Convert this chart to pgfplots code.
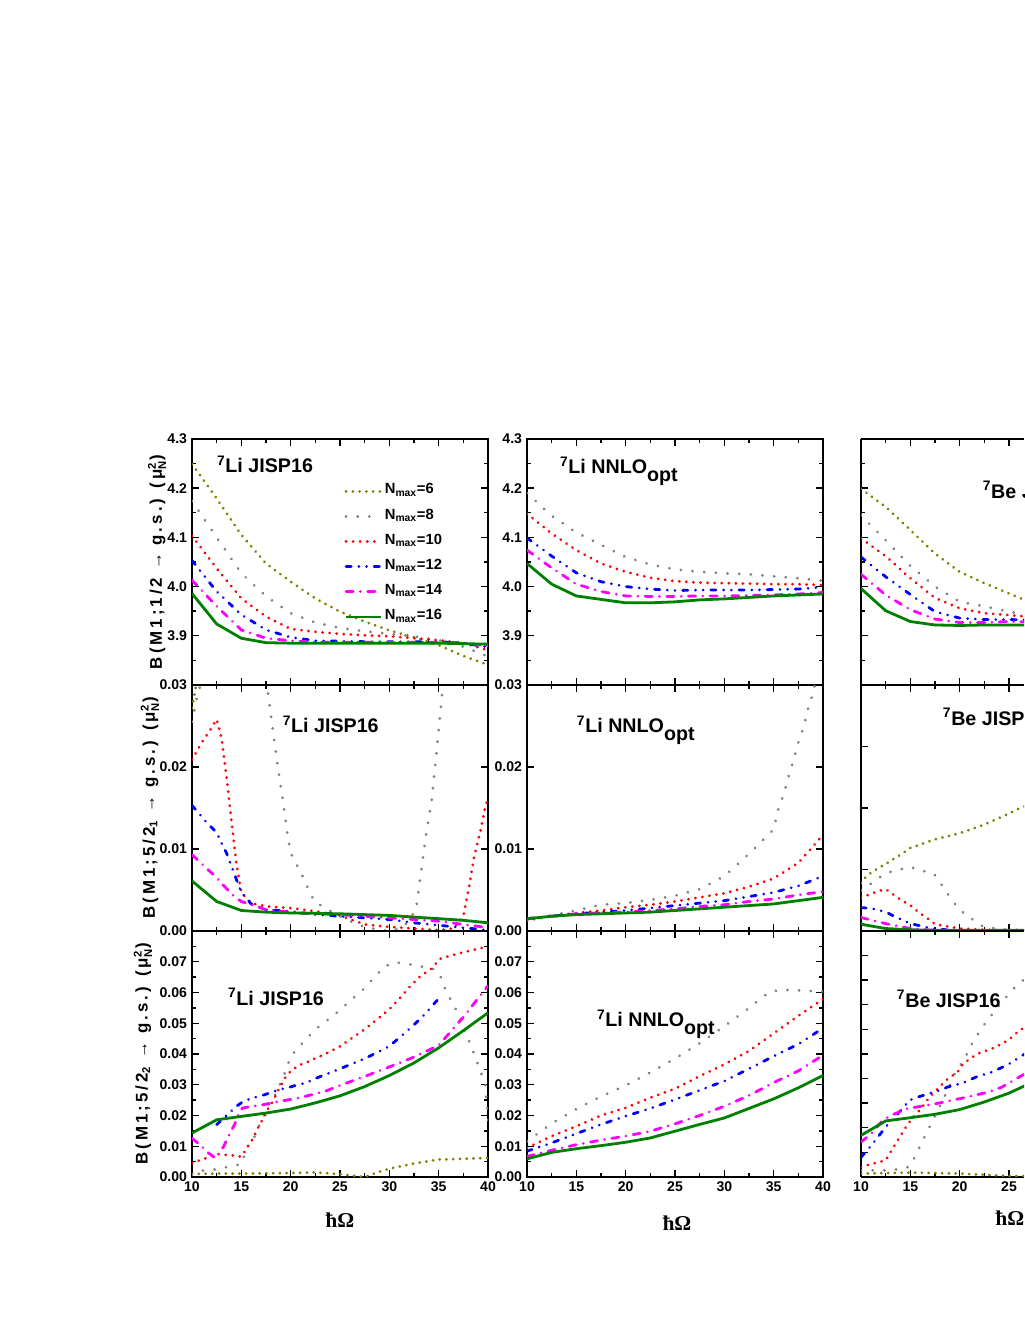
\documentclass[border=0pt]{standalone}
\usepackage{pgfplots}
\pgfplotsset{compat=1.18}
\usepackage{amsmath}
\usepackage{fontspec}
\setmainfont{Liberation Sans}
\newfontfamily\serifbf{Liberation Serif}
\newfontfamily\labfont[LetterSpace=18]{Liberation Sans}

\definecolor{cOlive}{RGB}{128,128,0}
\definecolor{cGray}{RGB}{128,128,128}
\definecolor{cRed}{RGB}{255,0,0}
\definecolor{cBlue}{RGB}{0,0,255}
\definecolor{cMag}{RGB}{255,0,255}
\definecolor{cGreen}{RGB}{0,128,0}

\tikzset{
  n6/.style={cOlive, line width=0.75mm, line cap=round, dash pattern=on 0.02mm off 1.67mm},
  n8/.style={cGray, line width=0.75mm, line cap=round, dash pattern=on 0.02mm off 2.9mm},
  n10/.style={cRed, line width=0.75mm, line cap=round, dash pattern=on 0.02mm off 1.75mm},
  n12/.style={cBlue, line width=0.7mm, line cap=round,
    dash pattern=on 1.3mm off 1.9mm on 0.02mm off 1.9mm on 0.02mm off 1.9mm},
  n14/.style={cMag, line width=0.7mm, line cap=round,
    dash pattern=on 1.8mm off 1.8mm on 0.02mm off 1.8mm},
  n16/.style={cGreen, line width=0.7mm},
  plab/.style={anchor=base west, font=\bfseries\fontsize{14}{16}\selectfont},
}

\pgfplotsset{
  panel/.style={
    scale only axis, width=74mm, height=61.5mm,
    xmin=10, xmax=40, xtick={10,15,20,25,30,35,40}, minor x tick num=1,
    xticklabels={}, scaled ticks=false,
    tick align=inside,
    axis line style={line width=0.4mm},
    tick style={line width=0.35mm, black},
    major tick length=1.7mm, minor tick length=1mm,
    tick label style={font=\bfseries\fontsize{10}{11}\selectfont},
    ylabel style={font=\labfont\bfseries\fontsize{12}{14}\selectfont, anchor=center},
    xlabel style={font=\serifbf\bfseries\fontsize{15}{17}\selectfont, anchor=center},
    clip mode=individual,
    legend image code/.code={\draw[##1] (0mm,0mm) -- (8.75mm,0mm);},
  },
  cut/.style={width=40.75mm, xmax=26.52, xtick={10,15,20,25},
    axis y line*=left, yticklabels={}},
  bottomx/.style={xticklabels={10,15,20,25,30,35,40}, xlabel={ħΩ}},
  row1/.style={ymin=3.8, ymax=4.3, ytick={3.8,3.9,4.0,4.1,4.2,4.3},
    yticklabels={,3.9,4.0,4.1,4.2,4.3}, minor y tick num=1},
  row2/.style={ymin=0, ymax=0.03, ytick={0,0.01,0.02,0.03},
    yticklabels={0.00,0.01,0.02,0.03}},
  row3/.style={ymin=0, ymax=0.08, ytick={0,0.01,0.02,0.03,0.04,0.05,0.06,0.07,0.08},
    yticklabels={0.00,0.01,0.02,0.03,0.04,0.05,0.06,0.07,}, minor y tick num=1},
}
\newcommand{\opt}{\raisebox{-1.9mm}{opt}}
\newcommand{\muN}{μ$^{\text{2}}_{\text{N}}$}

\begin{document}
\begin{tikzpicture}
\path (0,0) rectangle (256mm,331.25mm);

% ---------------- row 1 ----------------
\begin{axis}[panel, row1, at={(48mm,160mm)}, anchor=south west,
  ylabel={B(M1;1/2 → g.s.) (\muN)},
  ylabel style={at={(axis description cs:-0.118,0.5)}},
  legend style={at={(axis description cs:0.50,0.845)}, anchor=north west,
    draw=none, fill=none, font=\bfseries\fontsize{10.5}{12}\selectfont,
    legend cell align=left, row sep=0.9mm,
    nodes={inner sep=0.6mm, text height=2.8mm, text depth=1.4mm}}]
\addplot[n6] coordinates {(10,4.249)(12.5,4.179)(15,4.105)(17.5,4.047)(20,4.01)(22.5,3.976)(25,3.949)(27.5,3.929)(30,3.911)(32.5,3.897)(35,3.881)(37.5,3.859)(40,3.841)};
\addlegendentry{N\textsubscript{max}=6}
\addplot[n8] coordinates {(10,4.174)(12.5,4.1)(15,4.027)(17.5,3.98)(20,3.946)(22.5,3.927)(25,3.916)(27.5,3.909)(30,3.904)(32.5,3.899)(35,3.891)(37.5,3.878)(40,3.858)};
\addlegendentry{N\textsubscript{max}=8}
\addplot[n10] coordinates {(10,4.103)(12.5,4.037)(15,3.976)(17.5,3.939)(20,3.914)(22.5,3.908)(25,3.904)(27.5,3.901)(30,3.899)(32.5,3.895)(35,3.891)(37.5,3.885)(40,3.871)};
\addlegendentry{N\textsubscript{max}=10}
\addplot[n12] coordinates {(10,4.053)(12.5,3.99)(15,3.943)(17.5,3.912)(20,3.897)(22.5,3.89)(25,3.889)(27.5,3.888)(30,3.888)(32.5,3.888)(35,3.888)(37.5,3.885)(40,3.877)};
\addlegendentry{N\textsubscript{max}=12}
\addplot[n14] coordinates {(10,4.013)(12.5,3.96)(15,3.912)(17.5,3.895)(20,3.89)(22.5,3.887)(25,3.887)(27.5,3.887)(30,3.887)(32.5,3.887)(35,3.887)(37.5,3.886)(40,3.879)};
\addlegendentry{N\textsubscript{max}=14}
\addplot[n16] coordinates {(10,3.986)(12.5,3.924)(15,3.895)(17.5,3.886)(20,3.885)(22.5,3.885)(25,3.885)(27.5,3.885)(30,3.885)(32.5,3.885)(35,3.885)(37.5,3.884)(40,3.883)};
\addlegendentry{N\textsubscript{max}=16}
\node[plab] at (axis description cs:0.068,0.862) {\textsuperscript{7}Li JISP16};
\end{axis}

\begin{axis}[panel, row1, at={(131.75mm,160mm)}, anchor=south west]
\addplot[n8] coordinates {(10,4.19)(12.5,4.144)(15,4.11)(17.5,4.085)(20,4.06)(22.5,4.045)(25,4.035)(27.5,4.03)(30,4.027)(32.5,4.025)(35,4.021)(37.5,4.017)(40,4.012)};
\addplot[n10] coordinates {(10,4.148)(12.5,4.108)(15,4.074)(17.5,4.047)(20,4.03)(22.5,4.018)(25,4.011)(27.5,4.008)(30,4.007)(32.5,4.006)(35,4.005)(37.5,4.005)(40,4.003)};
\addplot[n12] coordinates {(10,4.099)(12.5,4.062)(15,4.028)(17.5,4.01)(20,4.0)(22.5,3.995)(25,3.992)(27.5,3.993)(30,3.993)(32.5,3.993)(35,3.994)(37.5,3.995)(40,3.999)};
\addplot[n14] coordinates {(10,4.074)(12.5,4.038)(15,4.005)(17.5,3.99)(20,3.981)(22.5,3.98)(25,3.98)(27.5,3.981)(30,3.981)(32.5,3.982)(35,3.983)(37.5,3.985)(40,3.988)};
\addplot[n16] coordinates {(10,4.047)(12.5,4.005)(15,3.981)(17.5,3.974)(20,3.967)(22.5,3.967)(25,3.969)(27.5,3.973)(30,3.975)(32.5,3.978)(35,3.981)(37.5,3.983)(40,3.985)};
\node[plab] at (axis description cs:0.095,0.858) {\textsuperscript{7}Li NNLO\opt};
\end{axis}

\begin{axis}[panel, row1, cut, at={(215.25mm,160mm)}, anchor=south west]
\addplot[n6] coordinates {(10,4.199)(12.5,4.162)(15,4.115)(17.5,4.067)(20,4.03)(22.5,4.007)(25,3.986)(27.5,3.965)(30,3.945)};
\addplot[n8] coordinates {(10,4.145)(12.5,4.094)(15,4.042)(17.5,4.0)(20,3.969)(22.5,3.96)(25,3.949)(27.5,3.94)(30,3.935)};
\addplot[n10] coordinates {(10,4.098)(12.5,4.062)(15,4.017)(17.5,3.977)(20,3.956)(22.5,3.946)(25,3.942)(27.5,3.938)(30,3.935)};
\addplot[n12] coordinates {(10,4.06)(12.5,4.02)(15,3.984)(17.5,3.949)(20,3.936)(22.5,3.933)(25,3.933)(27.5,3.932)(30,3.93)};
\addplot[n14] coordinates {(10,4.025)(12.5,3.983)(15,3.953)(17.5,3.934)(20,3.927)(22.5,3.927)(25,3.929)(27.5,3.928)(30,3.927)};
\addplot[n16] coordinates {(10,3.996)(12.5,3.951)(15,3.929)(17.5,3.922)(20,3.921)(22.5,3.922)(25,3.922)(27.5,3.922)(30,3.922)};
\node[plab, overlay] at (axis description cs:0.717,0.76) {\textsuperscript{7}Be JISP16};
\end{axis}

% ---------------- row 2 ----------------
\begin{axis}[panel, row2, at={(48mm,98.5mm)}, anchor=south west,
  ylabel={B(M1;5/2\textsubscript{1} → g.s.) (\muN)},
  ylabel style={at={(axis description cs:-0.142,0.5)}}]
\addplot[n6] coordinates {(10,0.0272)(10.5,0.0305)(11,0.034)};
\addplot[n8] coordinates {(10,0.0255)(10.5,0.0285)(11,0.0305)(12.5,0.038)(15,0.042)(17.5,0.031)(17.7,0.029)(18.2,0.0245)(18.7,0.02)(19.2,0.016)(19.7,0.0116)(20,0.0095)(20.6,0.0081)(21.2,0.0067)(21.8,0.0051)(22.4,0.0036)(23.8,0.0026)(25.6,0.0014)(27.7,0.0004)(30,0.0)(31.4,0.0004)(32.7,0.0026)(33.2,0.0071)(33.7,0.0116)(34.3,0.016)(34.8,0.022)(35.3,0.0282)(35.5,0.031)(36,0.036)};
\addplot[n10] coordinates {(10,0.0209)(11,0.023)(12,0.0248)(12.5,0.0258)(13,0.0235)(13.5,0.0188)(14,0.0134)(14.5,0.0082)(15,0.0047)(16,0.0034)(17.5,0.003)(20,0.0028)(22.5,0.0024)(25,0.0019)(27.5,0.0008)(30,0.0005)(32.5,0.0003)(35,0.0001)(36.5,0.0003)(37.5,0.0018)(38.1,0.0055)(38.6,0.0091)(39.2,0.012)(39.7,0.015)(40,0.0162)};
\addplot[n12] coordinates {(10,0.0153)(10.8,0.0142)(11.5,0.0132)(12.5,0.012)(13,0.0107)(13.5,0.0095)(14,0.0079)(14.5,0.0063)(15,0.0047)(16,0.0033)(17.5,0.0026)(20,0.0024)(22.5,0.002)(25,0.0018)(27.5,0.0016)(30,0.0014)(32.5,0.001)(35,0.0007)(37.5,0.0004)(40,0.0001)};
\addplot[n14] coordinates {(10,0.0093)(12.5,0.0065)(14,0.0045)(15,0.0036)(17.5,0.0026)(20,0.0023)(22.5,0.0021)(25,0.002)(27.5,0.0018)(30,0.0016)(32.5,0.0014)(35,0.0012)(37.5,0.0008)(40,0.0004)};
\addplot[n16] coordinates {(10,0.0061)(12.5,0.0036)(15,0.0025)(17.5,0.0023)(20,0.0022)(22.5,0.00215)(25,0.0021)(27.5,0.002)(30,0.0019)(32.5,0.0017)(35,0.0015)(37.5,0.0013)(40,0.001)};
\node[plab] at (axis description cs:0.29,0.805) {\textsuperscript{7}Li JISP16};
\end{axis}

\begin{axis}[panel, row2, at={(131.75mm,98.5mm)}, anchor=south west]
\addplot[n8] coordinates {(10,0.0013)(12.5,0.0019)(15,0.0025)(17.5,0.0032)(20,0.0034)(22.5,0.0038)(25,0.0043)(27.5,0.0051)(30,0.0067)(32.5,0.0094)(35,0.0124)(35.5,0.015)(36,0.0166)(36.5,0.0188)(37,0.0208)(37.5,0.023)(38,0.0247)(38.5,0.0272)(39,0.029)(39.5,0.032)(40,0.036)};
\addplot[n10] coordinates {(10,0.0013)(12.5,0.0018)(15,0.0022)(17.5,0.0025)(20,0.0029)(22.5,0.0032)(25,0.0036)(27.5,0.0041)(30,0.0046)(32.5,0.0054)(35,0.0064)(37.5,0.0083)(40,0.0117)};
\addplot[n12] coordinates {(10,0.0015)(12.5,0.0018)(15,0.0021)(17.5,0.0023)(20,0.0025)(22.5,0.0028)(25,0.0031)(27.5,0.0034)(30,0.0037)(32.5,0.0042)(35,0.0047)(37.5,0.0055)(40,0.0067)};
\addplot[n14] coordinates {(10,0.0015)(12.5,0.0018)(15,0.0021)(17.5,0.0022)(20,0.0023)(22.5,0.0025)(25,0.0027)(27.5,0.003)(30,0.0032)(32.5,0.0036)(35,0.0039)(37.5,0.0044)(40,0.0048)};
\addplot[n16] coordinates {(10,0.0015)(12.5,0.0018)(15,0.002)(17.5,0.0021)(20,0.0022)(22.5,0.0023)(25,0.0025)(27.5,0.0027)(30,0.0029)(32.5,0.0031)(35,0.0033)(37.5,0.0037)(40,0.0041)};
\node[plab] at (axis description cs:0.152,0.805) {\textsuperscript{7}Li NNLO\opt};
\end{axis}

\begin{axis}[panel, cut, ymin=0, ymax=0.04, ytick={0,0.01,0.02,0.03,0.04},
  at={(215.25mm,98.5mm)}, anchor=south west]
\addplot[n6] coordinates {(10,0.0078)(10.5,0.0088)(11.2,0.0097)(12.5,0.0109)(13.1,0.0115)(13.8,0.0122)(15,0.0135)(17.5,0.0149)(20,0.0159)(22.5,0.0173)(25,0.0191)(26.1,0.02)(27.5,0.0207)(30,0.0225)};
\addplot[n8] coordinates {(10,0.0066)(11.2,0.0079)(12.5,0.0094)(13.7,0.0099)(15,0.0104)(16.2,0.0098)(17.4,0.0093)(18.3,0.0072)(19.1,0.0053)(20,0.0034)(21.2,0.002)(22.4,0.0007)(23.7,0.0004)(25,0.0002)(30,0.0001)};
\addplot[n10] coordinates {(10,0.0054)(10.8,0.0059)(11.6,0.0064)(12.5,0.0068)(13.3,0.0059)(14.1,0.005)(15,0.0042)(15.8,0.0031)(16.7,0.0021)(17.5,0.0011)(20,0.0004)(22.5,0.0002)(25,0.0001)(30,0.0001)};
\addplot[n12] coordinates {(10,0.0038)(11,0.0037)(12.5,0.0031)(13.1,0.0026)(15,0.0012)(17.5,0.0003)(20,0.0001)(30,0.0)};
\addplot[n14] coordinates {(10,0.0022)(12.5,0.0012)(15,0.0004)(17.5,0.0001)(20,0.0)(30,0.0)};
\addplot[n16] coordinates {(10,0.0011)(12.5,0.0004)(15,0.0002)(17.5,0.0001)(30,0.0001)};
\node[plab, overlay] at (axis description cs:0.472,0.837) {\textsuperscript{7}Be JISP16};
\end{axis}

% ---------------- row 3 ----------------
\begin{axis}[panel, row3, bottomx, at={(48mm,37mm)}, anchor=south west,
  ylabel={B(M1;5/2\textsubscript{2} → g.s.) (\muN)},
  ylabel style={at={(axis description cs:-0.166,0.5)}},
  xlabel style={at={(axis description cs:0.5,-0.175)}}]
\addplot[n6] coordinates {(10,0.001)(12.5,0.0011)(15,0.0011)(17.5,0.0012)(20,0.0013)(22.5,0.0015)(25,0.0009)(27.5,0.0)(28.7,0.0014)(30,0.0027)(32.5,0.0044)(35,0.0057)(37.5,0.0059)(40,0.0062)};
\addplot[n8] coordinates {(10,0.0008)(11.3,0.0023)(12.5,0.0025)(13.8,0.0034)(15,0.0042)(15.7,0.0105)(16.2,0.012)(16.7,0.0159)(17.8,0.0239)(18.4,0.0265)(18.9,0.03)(19.3,0.0328)(19.6,0.0358)(20.1,0.0396)(21.2,0.0436)(22.5,0.048)(23.6,0.0507)(24.8,0.0538)(26,0.0572)(27.2,0.0605)(28.3,0.0643)(29.5,0.0685)(30.7,0.0698)(32,0.0692)(33.1,0.0685)(34.3,0.068)(35.1,0.066)(35.6,0.0616)(36.2,0.0578)(37,0.0529)(37.6,0.048)(38.3,0.0425)(38.8,0.0382)(39.3,0.0338)(39.7,0.03)(39.9,0.0234)(40,0.0185)};
\addplot[n10] coordinates {(10,0.0045)(10.9,0.0056)(11.7,0.0064)(12.5,0.0075)(13.3,0.0072)(14.2,0.007)(15,0.0066)(15.5,0.009)(16,0.0115)(16.4,0.014)(16.8,0.0167)(17.3,0.0195)(17.7,0.0222)(18.2,0.0246)(18.6,0.0273)(19.1,0.0303)(19.5,0.0326)(20,0.0344)(20.8,0.0363)(21.7,0.0374)(22.5,0.0386)(23.3,0.0397)(24.1,0.041)(25,0.0425)(27.5,0.048)(30,0.0545)(31.1,0.0583)(32,0.0616)(33,0.0649)(34.2,0.0676)(35.1,0.0709)(36.2,0.072)(37.4,0.073)(38.6,0.0739)(39.6,0.0747)(40,0.0752)};
\addplot[n12] coordinates {(12.5,0.017)(13,0.0186)(13.7,0.0206)(14.5,0.023)(15.3,0.0248)(15.7,0.0252)(16.5,0.026)(17.3,0.0267)(18.1,0.0276)(18.8,0.0284)(20,0.0293)(20.8,0.0301)(21.6,0.0306)(22.4,0.0319)(23.1,0.0328)(24,0.0339)(25,0.0352)(27.5,0.0385)(30,0.0425)(32.5,0.0495)(33.4,0.0523)(35,0.058)};
\addplot[n14] coordinates {(10,0.0126)(10.8,0.0105)(11.6,0.008)(12.4,0.0061)(13.2,0.0099)(13.7,0.0132)(14.3,0.017)(14.7,0.0203)(15.1,0.0224)(16.1,0.023)(17.2,0.0235)(18.4,0.0243)(19.4,0.0249)(20.8,0.0257)(22.2,0.0268)(23.5,0.0279)(24.4,0.029)(25,0.0298)(27.5,0.0327)(30,0.0358)(32.5,0.039)(35,0.0428)(37.5,0.052)(40,0.0622)};
\addplot[n16] coordinates {(10,0.0143)(12.5,0.0186)(15,0.0197)(17.5,0.0208)(20,0.0221)(22.5,0.0241)(25,0.0264)(27.5,0.0294)(30,0.033)(32.5,0.0371)(35,0.042)(37.5,0.0476)(40,0.0534)};
\node[plab] at (axis description cs:0.105,0.699) {\textsuperscript{7}Li JISP16};
\end{axis}

\begin{axis}[panel, row3, bottomx, at={(131.75mm,37mm)}, anchor=south west,
  xlabel style={at={(axis description cs:0.507,-0.187)}}]
\addplot[n8] coordinates {(10,0.0116)(12.5,0.0174)(15,0.0221)(17.5,0.0262)(20,0.0298)(22.5,0.034)(25,0.0385)(27.5,0.0435)(30,0.049)(32.5,0.055)(34.5,0.06)(35.7,0.0609)(37.5,0.0607)(40,0.0603)};
\addplot[n10] coordinates {(10,0.0095)(12.5,0.0133)(15,0.0165)(17.5,0.02)(20,0.0225)(22.5,0.0258)(25,0.0287)(27.5,0.0328)(30,0.0366)(32.5,0.041)(35,0.0467)(37.5,0.0524)(40,0.0578)};
\addplot[n12] coordinates {(10,0.0084)(12.5,0.0111)(15,0.0141)(17.5,0.0171)(20,0.0198)(22.5,0.0223)(25,0.0252)(27.5,0.0282)(30,0.0312)(32.5,0.0352)(35,0.0393)(37.5,0.0432)(40,0.0484)};
\addplot[n14] coordinates {(10,0.0067)(12.5,0.0087)(15,0.0105)(17.5,0.012)(20,0.0133)(22.5,0.0149)(25,0.0173)(27.5,0.02)(30,0.023)(32.5,0.0265)(35,0.0307)(37.5,0.0345)(40,0.0396)};
\addplot[n16] coordinates {(10,0.0059)(12.5,0.008)(15,0.0092)(17.5,0.0102)(20,0.0113)(22.5,0.0127)(25,0.0149)(27.5,0.0171)(30,0.0192)(32.5,0.0223)(35,0.0254)(37.5,0.029)(40,0.033)};
\node[plab] at (axis description cs:0.22,0.61) {\textsuperscript{7}Li NNLO\opt};
\end{axis}

\begin{axis}[panel, bottomx, cut, xticklabels={10,15,20,25}, ymin=0, ymax=0.1,
  ytick={0,0.01,0.02,0.03,0.04,0.05,0.06,0.07,0.08,0.09,0.1},
  at={(215.25mm,37mm)}, anchor=south west,
  xlabel style={overlay, at={(axis description cs:0.914,-0.167)}}]
\addplot[n6] coordinates {(10,0.0014)(15,0.0018)(20,0.0014)(25,0.0004)(30,0.0003)};
\addplot[n8] coordinates {(10,0.0027)(12.5,0.0027)(13.6,0.0031)(14.9,0.0041)(15.5,0.0084)(16.1,0.0136)(16.7,0.0183)(17.3,0.0233)(17.9,0.028)(18.5,0.033)(19.1,0.038)(19.6,0.043)(20.5,0.0478)(21,0.0526)(21.7,0.0572)(22.5,0.062)(23.4,0.0667)(24.3,0.0711)(25.2,0.0755)(27.5,0.084)(30,0.09)};
\addplot[n10] coordinates {(10,0.0041)(10.8,0.005)(11.6,0.0058)(12.5,0.0068)(13,0.0102)(14,0.0167)(14.5,0.02)(15.1,0.0235)(15.7,0.026)(16.4,0.0295)(17,0.0328)(17.9,0.0363)(18.6,0.0393)(19.8,0.0427)(20.4,0.0463)(21.1,0.0481)(21.7,0.0499)(22.5,0.0511)(23.3,0.0522)(24.1,0.0538)(25,0.0558)(25.7,0.0583)(26.5,0.0607)(27.5,0.063)(30,0.07)};
\addplot[n12] coordinates {(10,0.0081)(10.5,0.0102)(11.2,0.0136)(12.5,0.0203)(14.2,0.0278)(14.9,0.0312)(16,0.0328)(17.6,0.0348)(18.8,0.0366)(20.3,0.0382)(21.7,0.0407)(23.3,0.0427)(24.9,0.0457)(26.4,0.0495)(27.5,0.052)(30,0.058)};
\addplot[n14] coordinates {(10,0.0142)(11,0.0175)(12.2,0.023)(13,0.025)(14.7,0.0278)(17.6,0.0298)(20.3,0.0321)(23,0.0346)(24.3,0.0366)(26.5,0.0417)(27.5,0.045)(30,0.051)};
\addplot[n16] coordinates {(10,0.0169)(12.5,0.0228)(15,0.0241)(17.5,0.0255)(20,0.0274)(22.5,0.0305)(25,0.0341)(26.5,0.0369)(27.5,0.039)(30,0.044)};
\node[plab] at (axis description cs:0.19,0.691) {\textsuperscript{7}Be JISP16};
\end{axis}
\end{tikzpicture}
\end{document}
